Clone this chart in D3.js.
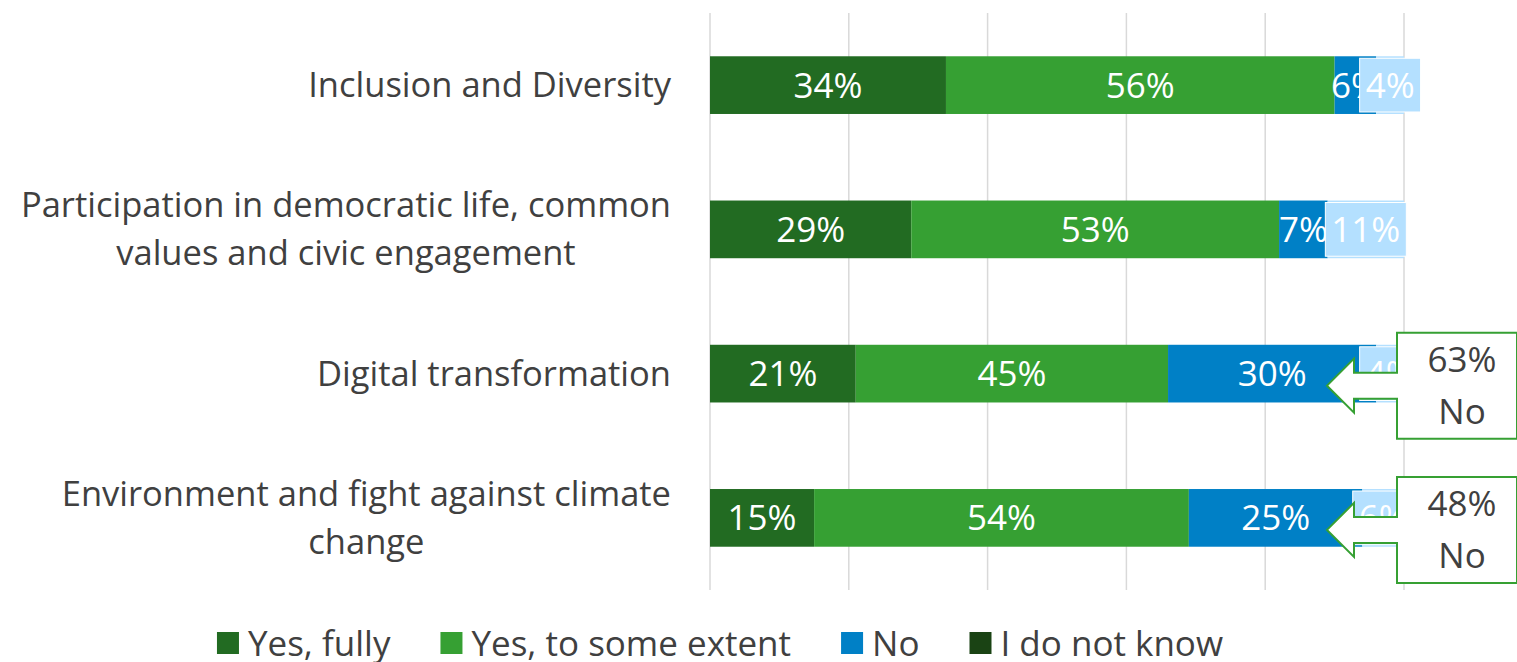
<!DOCTYPE html>
<html lang="en">
<head>
  <meta charset="UTF-8">
  <title>Stacked bars</title>
  <script src="https://d3js.org/d3.v7.min.js"></script>
  <style>
    body { margin: 0; background: #fff; }
    text { font-family: "Open Sans", sans-serif; }
    .catLabel { fill: #404040; font-size: 34.5px; }
    .barLabel { fill: #fff; font-size: 35px; }
    .legendText { fill: #404040; font-size: 35px; }
    .calloutText { fill: #404040; font-size: 35px; }
    .grid { stroke: #d9d9d9; stroke-width: 1.5; }
  </style>
</head>
<body>
<div id="chart"></div>
<script>
  // data
  const categories = [
    ["Inclusion and Diversity"],
    ["Participation in democratic life, common", "values and civic engagement"],
    ["Digital transformation"],
    ["Environment and fight against climate", "change"]
  ];
  const seriesNames = ["Yes, fully", "Yes, to some extent", "No", "I do not know"];
  const yesFully = [34, 29, 21, 15];
  const yesSome = [56, 53, 45, 54];
  const no = [6, 7, 30, 25];
  const dontKnow = [4, 11, 4, 6];
  const gridTicks = [0, 20, 40, 60, 80, 100];
  // callouts: total "No" for two categories
  const calloutCats = [2, 3];
  const calloutValues = ["63%", "48%"];
  const calloutLabels = ["No", "No"];

  const barColors = ["#226b22", "#36a033", "#0080c6", "#b4e0ff"];
  const legendColors = ["#226b22", "#36a033", "#0080c6", "#1a4314"];

  const width = 1517, height = 662;
  const svg = d3.select("#chart").append("svg")
    .attr("width", width)
    .attr("height", height);

  const x = d3.scaleLinear().domain([0, 100]).range([710, 1404]);
  const y = d3.scaleBand()
    .domain(d3.range(categories.length))
    .range([13, 590])
    .paddingInner(0.6)
    .paddingOuter(0.3);
  const bh = y.bandwidth();

  // gridlines
  svg.selectAll("line.grid")
    .data(gridTicks)
    .enter()
    .append("line")
    .attr("class", "grid")
    .attr("x1", d => x(d)).attr("x2", d => x(d))
    .attr("y1", 13).attr("y2", 590);

  // stack the series
  const seriesValues = [yesFully, yesSome, no, dontKnow];
  const rows = categories.map((c, i) => {
    let acc = 0;
    return seriesValues.map((s, k) => {
      const seg = { cat: i, k: k, v: s[i], x0: acc, x1: acc + s[i] };
      acc += s[i];
      return seg;
    });
  });
  const segs = rows.flat();

  svg.selectAll("rect.seg")
    .data(segs)
    .enter()
    .append("rect")
    .attr("class", "seg")
    .attr("x", d => x(d.x0))
    .attr("y", d => y(d.cat))
    .attr("width", d => x(d.x1) - x(d.x0))
    .attr("height", bh)
    .attr("fill", d => barColors[d.k]);

  // labels for first three series
  svg.selectAll("text.barLabel1")
    .data(segs.filter(d => d.k < 3))
    .enter()
    .append("text")
    .attr("class", "barLabel")
    .attr("x", d => x((d.x0 + d.x1) / 2))
    .attr("y", d => y(d.cat) + bh / 2)
    .attr("dy", "0.36em")
    .attr("text-anchor", "middle")
    .text(d => d.v + "%");

  // last series labels sit on a filled box
  const lastLabels = svg.selectAll("g.lastLabel")
    .data(segs.filter(d => d.k === 3))
    .enter()
    .append("g")
    .attr("class", "lastLabel");
  lastLabels.append("rect");
  lastLabels.append("text")
    .attr("class", "barLabel")
    .attr("x", d => x((d.x0 + d.x1) / 2))
    .attr("y", d => y(d.cat) + bh / 2)
    .attr("dy", "0.36em")
    .attr("text-anchor", "middle")
    .text(d => d.v + "%");
  lastLabels.each(function(d) {
    const g = d3.select(this);
    const w = g.select("text").node().getComputedTextLength() + 12;
    g.select("rect")
      .attr("x", x((d.x0 + d.x1) / 2) - w / 2)
      .attr("y", y(d.cat) + 2)
      .attr("width", w)
      .attr("height", bh - 4)
      .attr("fill", barColors[3])
      .attr("stroke", "#fff")
      .attr("stroke-width", 1);
  });

  // category labels, lines centred, block right-aligned
  const lineH = 48;
  categories.forEach((lines, i) => {
    const g = svg.append("text").attr("class", "catLabel");
    const cy = y(i) + bh / 2;
    const tspans = lines.map((ln, j) => g.append("tspan")
      .attr("y", cy + (j - (lines.length - 1) / 2) * lineH)
      .attr("dy", "0.35em")
      .text(ln));
    const widths = tspans.map(t => t.node().getComputedTextLength());
    const maxW = d3.max(widths);
    const right = 671;
    tspans.forEach((t, j) => t.attr("x", right - maxW / 2 - widths[j] / 2));
  });

  // callouts
  calloutCats.forEach((ci, n) => {
    const tx = 1327, ty = y(ci) + bh / 2 + 12;
    const pts = [[0, 0], [27, -27], [27, -13], [70, -13], [70, -53], [190, -53],
                 [190, 53], [70, 53], [70, 13], [27, 13], [27, 27]];
    svg.append("path")
      .attr("d", d3.line()(pts.map(p => [tx + p[0], ty + p[1]])) + "Z")
      .attr("fill", "#fff")
      .attr("stroke", "#36a033")
      .attr("stroke-width", 2);
    svg.append("text")
      .attr("class", "calloutText")
      .attr("x", tx + 135).attr("y", ty - 14)
      .attr("text-anchor", "middle")
      .text(calloutValues[n]);
    svg.append("text")
      .attr("class", "calloutText")
      .attr("x", tx + 135).attr("y", ty + 38)
      .attr("text-anchor", "middle")
      .text(calloutLabels[n]);
  });

  // legend
  const legend = svg.append("g");
  let lx = 0;
  seriesNames.forEach((name, i) => {
    legend.append("rect")
      .attr("x", lx).attr("y", -11)
      .attr("width", 22).attr("height", 22)
      .attr("fill", legendColors[i]);
    const t = legend.append("text")
      .attr("class", "legendText")
      .attr("x", lx + 31).attr("y", 0)
      .attr("dy", "0.36em")
      .text(name);
    lx += 31 + t.node().getComputedTextLength() + 50;
  });
  lx -= 50;
  legend.attr("transform", `translate(${720 - lx / 2},643)`);
</script>
</body>
</html>
